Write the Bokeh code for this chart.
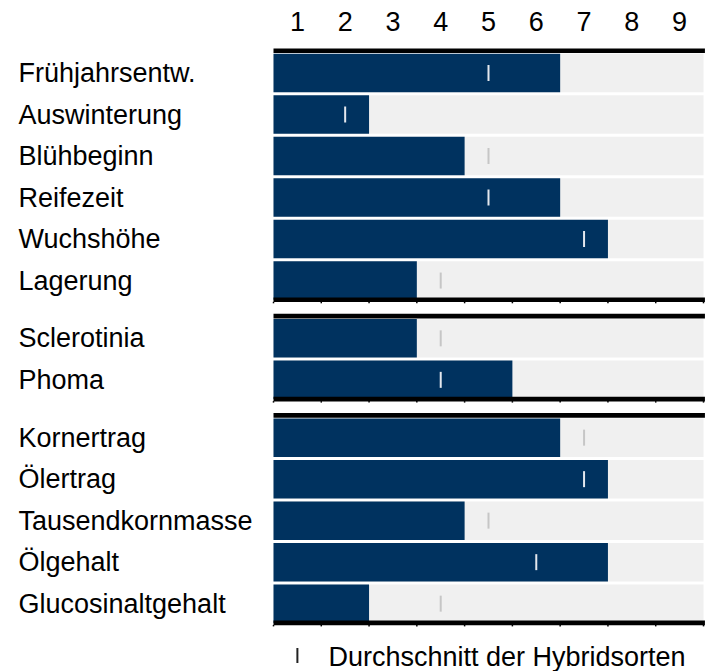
from bokeh.plotting import figure
from bokeh.models import Range1d, FixedTicker, ColumnDataSource
from bokeh.embed import file_html
from bokeh.resources import INLINE
from bokeh.core.properties import value

# ---------------- data ----------------
labels1 = ["Frühjahrsentw.", "Auswinterung", "Blühbeginn", "Reifezeit", "Wuchshöhe", "Lagerung"]
values1 = [6, 2, 4, 6, 7, 3]
avg1 = [5, 2, 5, 5, 7, 4]

labels2 = ["Sclerotinia", "Phoma"]
values2 = [3, 5]
avg2 = [4, 4]

labels3 = ["Kornertrag", "Ölertrag", "Tausendkornmasse", "Ölgehalt", "Glucosinaltgehalt"]
values3 = [6, 7, 4, 7, 2]
avg3 = [7, 7, 5, 6, 4]

scale_ticks = [1, 2, 3, 4, 5, 6, 7, 8, 9]
legend_label = "Durchschnitt der Hybridsorten"

# ---------------- layout constants (pixels) ----------------
W, H = 711, 671
FRAME_TOP = 42          # y of frame top
FRAME_BOTTOM = H        # y of frame bottom
PANEL_TOP = 50.3
PITCH = 41.5
GAP_IN = 3.0
PANEL_GAP = 16.3
LEFT_PX = 273           # px of scale value 0.5
RIGHT_PX = 703          # px of scale value 9.5
smin, smax = scale_ticks[0] - 0.5, scale_ticks[-1] + 0.5
ppu = (RIGHT_PX - LEFT_PX) / (smax - smin)
x_start = smin - LEFT_PX / ppu
x_end = smax + (W - RIGHT_PX) / ppu
label_x = x_start + 18 / ppu
FONT = "Liberation Sans"
FS = "27px"
NAVY = "#00325f"
LIGHT = "#f0f0f0"

panels = [(labels1, values1, avg1), (labels2, values2, avg2), (labels3, values3, avg3)]

names, centers, vals, avgs, mcolors = [], [], [], [], []
line_y = []
y = PANEL_TOP
for labs, vs, avs in panels:
    top = y
    for i, (lab, v, a) in enumerate(zip(labs, vs, avs)):
        c = top + PITCH * i + GAP_IN + (PITCH - GAP_IN) / 2
        names.append(lab)
        centers.append(c)
        vals.append(v)
        avgs.append(a)
        mcolors.append("#e4e8ee" if a < v + 0.5 else "#c6c6c6")
    bottom = top + PITCH * len(labs)
    line_y.append(top)
    line_y.append(bottom)
    y = bottom + PANEL_GAP

bottoms = line_y[1::2]

src = ColumnDataSource(dict(
    name=names, y=centers, v=[v + 0.5 for v in vals], a=avgs, mc=mcolors,
    lo=[smin] * len(vals), hi=[smax] * len(vals),
))

p = figure(width=W, height=H,
           x_range=Range1d(x_start, x_end),
           y_range=Range1d(FRAME_BOTTOM, FRAME_TOP),
           x_axis_location="above", y_axis_location=None,
           output_backend="svg", toolbar_location=None,
           min_border_top=FRAME_TOP, min_border_left=0,
           min_border_right=0, min_border_bottom=0)
p.grid.visible = False
p.outline_line_color = None
p.background_fill_color = "white"
p.border_fill_color = "white"

ax = p.xaxis[0]
ax.ticker = FixedTicker(ticks=scale_ticks)
ax.axis_line_color = None
ax.major_tick_line_color = None
ax.minor_tick_line_color = None
ax.major_label_text_font = FONT
ax.major_label_text_font_size = FS
ax.major_label_text_color = "black"
ax.major_label_standoff = 6

# background bars
p.hbar(y="y", left="lo", right="hi", height=PITCH - GAP_IN, source=src,
       fill_color=LIGHT, line_color=None)
# value bars
p.hbar(y="y", left="lo", right="v", height=PITCH - GAP_IN, source=src,
       fill_color=NAVY, line_color=None)
# average markers
p.rect(x="a", y="y", width=2, height=16, width_units="screen", height_units="screen",
       source=src, fill_color="mc", line_color=None)

# panel lines
p.segment(x0=[smin] * len(line_y), x1=[smax + 0.03] * len(line_y), y0=line_y, y1=line_y,
          line_width=4.6, line_color="black", line_cap="butt")
# small ticks under panel bottoms
tx, ty0, ty1 = [], [], []
for b in bottoms:
    for k in range(len(scale_ticks) + 1):
        tx.append(smin + k)
        ty0.append(b + 2)
        ty1.append(b + 3.5)
p.segment(x0=tx, x1=tx, y0=ty0, y1=ty1, line_width=1.5, line_color="black")

# row labels
p.text(x=label_x, y="y", text="name", source=src, text_font=value(FONT),
       text_font_size=FS, text_baseline="middle", text_align="left", text_color="black")

# legend
LEG_Y = 656
p.rect(x=[scale_ticks[0]], y=[LEG_Y - 1], width=2, height=15, width_units="screen",
       height_units="screen", fill_color="#222222", line_color=None)
p.text(x=[scale_ticks[0] + 0.65], y=[LEG_Y], text=[legend_label], text_font=value(FONT),
       text_font_size=FS, text_baseline="middle", text_align="left", text_color="black")

open("out.html", "w").write(file_html(p, INLINE))
